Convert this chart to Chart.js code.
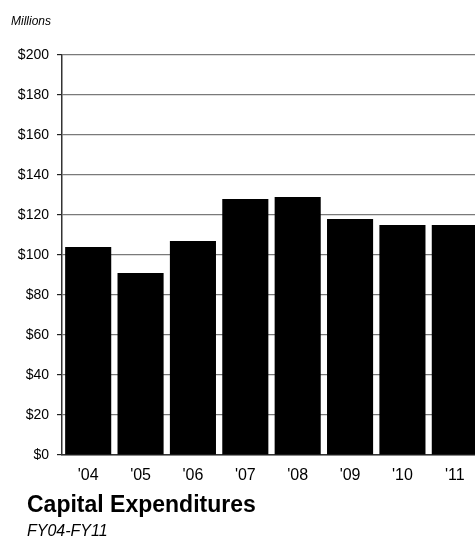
<!DOCTYPE html>
<html>
<head>
<meta charset="utf-8">
<script src="https://cdn.jsdelivr.net/npm/chart.js@4/dist/chart.umd.min.js"></script>
<style>
  html, body { margin: 0; padding: 0; background: #fff; overflow: hidden; }
  #wrap { position: relative; width: 495px; height: 538px; }
</style>
</head>
<body>
<div id="wrap"><canvas id="c"></canvas></div>
<script>
// Capital expenditures by fiscal year, in millions of dollars
const fiscalYears = ["'04", "'05", "'06", "'07", "'08", "'09", "'10", "'11"];
const capexMillions = [104, 91, 107, 128, 129, 118, 115, 115];
const yTicks = [0, 20, 40, 60, 80, 100, 120, 140, 160, 180, 200];

const FONT = "'Liberation Sans', Arial, sans-serif";

// Unit note above the axis and the caption block under the chart
const captions = {
  id: 'captions',
  afterDraw(chart) {
    const ctx = chart.ctx;
    ctx.save();
    ctx.fillStyle = '#000';
    ctx.textAlign = 'left';
    ctx.textBaseline = 'alphabetic';
    ctx.font = 'italic 12px ' + FONT;
    ctx.fillText('Millions', 11, 25);
    ctx.font = 'bold 23px ' + FONT;
    ctx.fillText('Capital Expenditures', 27, 512);
    ctx.font = 'italic 16px ' + FONT;
    ctx.fillText('FY04-FY11', 27, 536);
    ctx.restore();
  }
};

new Chart(document.getElementById('c'), {
  type: 'bar',
  data: {
    labels: fiscalYears,
    datasets: [{
      data: capexMillions,
      backgroundColor: '#000',
      borderWidth: 0,
      barPercentage: 0.88,
      categoryPercentage: 1.0
    }]
  },
  options: {
    responsive: true,
    maintainAspectRatio: false,
    animation: false,
    layout: { padding: { top: 55, right: 14, bottom: 53, left: 0 } },
    plugins: {
      legend: { display: false },
      tooltip: { enabled: false }
    },
    scales: {
      x: {
        grid: { display: false },
        border: { display: true, color: '#333', width: 1.5 },
        ticks: { color: '#000', font: { family: FONT, size: 16 }, padding: 3 },
        afterFit(s) { s.height = 30; }
      },
      y: {
        min: 0,
        max: 200,
        afterBuildTicks(s) { s.ticks = yTicks.map(v => ({ value: v })); },
        grid: { color: '#7a7a7a', lineWidth: 1.2, tickColor: '#222', tickLength: 5 },
        border: { display: true, color: '#333', width: 1.5 },
        ticks: {
          color: '#000',
          font: { family: FONT, size: 14 },
          padding: 8,
          callback: v => '$' + v
        },
        afterFit(s) { s.width = 62; }
      }
    }
  },
  plugins: [captions]
});
</script>
</body>
</html>
